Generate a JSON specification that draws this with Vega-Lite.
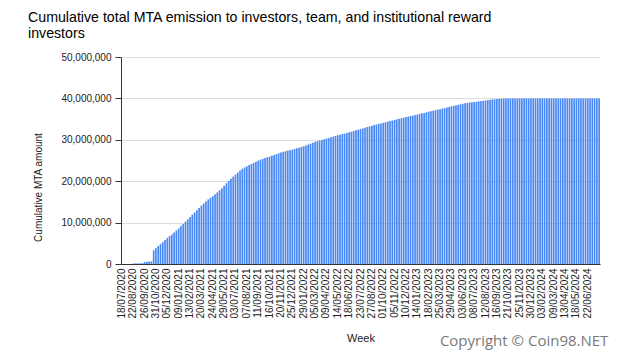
{
  "$schema": "https://vega.github.io/schema/vega-lite/v6.json",
  "width": 479,
  "height": 207,
  "autosize": {"type": "none"},
  "padding": {"left": 121, "top": 57, "right": 41, "bottom": 91},
  "background": "white",
  "title": {
    "text": ["Cumulative total MTA emission to investors, team, and institutional reward", "investors"],
    "anchor": "start",
    "frame": "group",
    "dx": -93,
    "font": "Liberation Sans",
    "fontSize": 14.2,
    "fontWeight": "normal",
    "color": "#000000",
    "lineHeight": 16,
    "offset": 11
  },
  "config": {
    "view": {"stroke": null},
    "axis": {"labelFont": "Liberation Sans", "titleFont": "Liberation Sans", "labelColor": "#222222", "titleColor": "#222222", "titleFontWeight": "normal"}
  },
  "data": {"values": [
    {"w":"18/07/2020","v":0},{"w":"25/07/2020","v":0},{"w":"01/08/2020","v":0},{"w":"08/08/2020","v":0},{"w":"15/08/2020","v":0},
    {"w":"22/08/2020","v":100000},{"w":"29/08/2020","v":150000},{"w":"05/09/2020","v":150000},{"w":"12/09/2020","v":200000},{"w":"19/09/2020","v":200000},
    {"w":"26/09/2020","v":500000},{"w":"03/10/2020","v":550000},{"w":"10/10/2020","v":600000},{"w":"17/10/2020","v":650000},{"w":"24/10/2020","v":3300000},
    {"w":"31/10/2020","v":3800000},{"w":"07/11/2020","v":4350000},{"w":"14/11/2020","v":4800000},{"w":"21/11/2020","v":5300000},{"w":"28/11/2020","v":5800000},
    {"w":"05/12/2020","v":6300000},{"w":"12/12/2020","v":6750000},{"w":"19/12/2020","v":7150000},{"w":"26/12/2020","v":7600000},{"w":"02/01/2021","v":8100000},
    {"w":"09/01/2021","v":8600000},{"w":"16/01/2021","v":9150000},{"w":"23/01/2021","v":9700000},{"w":"30/01/2021","v":10250000},{"w":"06/02/2021","v":10800000},
    {"w":"13/02/2021","v":11350000},{"w":"20/02/2021","v":11900000},{"w":"27/02/2021","v":12450000},{"w":"06/03/2021","v":13000000},{"w":"13/03/2021","v":13550000},
    {"w":"20/03/2021","v":14100000},{"w":"27/03/2021","v":14600000},{"w":"03/04/2021","v":15100000},{"w":"10/04/2021","v":15600000},{"w":"17/04/2021","v":16000000},
    {"w":"24/04/2021","v":16400000},{"w":"01/05/2021","v":16850000},{"w":"08/05/2021","v":17300000},{"w":"15/05/2021","v":17800000},{"w":"22/05/2021","v":18300000},
    {"w":"29/05/2021","v":18900000},{"w":"05/06/2021","v":19500000},{"w":"12/06/2021","v":20100000},{"w":"19/06/2021","v":20600000},{"w":"26/06/2021","v":21100000},
    {"w":"03/07/2021","v":21600000},{"w":"10/07/2021","v":22100000},{"w":"17/07/2021","v":22600000},{"w":"24/07/2021","v":23000000},{"w":"31/07/2021","v":23300000},
    {"w":"07/08/2021","v":23600000},{"w":"14/08/2021","v":23900000},{"w":"21/08/2021","v":24150000},{"w":"28/08/2021","v":24400000},{"w":"04/09/2021","v":24700000},
    {"w":"11/09/2021","v":25000000},{"w":"18/09/2021","v":25200000},{"w":"25/09/2021","v":25400000},{"w":"02/10/2021","v":25600000},{"w":"09/10/2021","v":25800000},
    {"w":"16/10/2021","v":25950000},{"w":"23/10/2021","v":26150000},{"w":"30/10/2021","v":26350000},{"w":"06/11/2021","v":26550000},{"w":"13/11/2021","v":26750000},
    {"w":"20/11/2021","v":26950000},{"w":"27/11/2021","v":27100000},{"w":"04/12/2021","v":27250000},{"w":"11/12/2021","v":27400000},{"w":"18/12/2021","v":27500000},
    {"w":"25/12/2021","v":27650000},{"w":"01/01/2022","v":27800000},{"w":"08/01/2022","v":27950000},{"w":"15/01/2022","v":28100000},{"w":"22/01/2022","v":28300000},
    {"w":"29/01/2022","v":28450000},{"w":"05/02/2022","v":28650000},{"w":"12/02/2022","v":28850000},{"w":"19/02/2022","v":29050000},{"w":"26/02/2022","v":29300000},
    {"w":"05/03/2022","v":29500000},{"w":"12/03/2022","v":29650000},{"w":"19/03/2022","v":29800000},{"w":"26/03/2022","v":29950000},{"w":"02/04/2022","v":30150000},
    {"w":"09/04/2022","v":30300000},{"w":"16/04/2022","v":30450000},{"w":"23/04/2022","v":30600000},{"w":"30/04/2022","v":30800000},{"w":"07/05/2022","v":30950000},
    {"w":"14/05/2022","v":31100000},{"w":"21/05/2022","v":31250000},{"w":"28/05/2022","v":31400000},{"w":"04/06/2022","v":31500000},{"w":"11/06/2022","v":31650000},
    {"w":"18/06/2022","v":31800000},{"w":"25/06/2022","v":31950000},{"w":"02/07/2022","v":32100000},{"w":"09/07/2022","v":32300000},{"w":"16/07/2022","v":32450000},
    {"w":"23/07/2022","v":32600000},{"w":"30/07/2022","v":32750000},{"w":"06/08/2022","v":32900000},{"w":"13/08/2022","v":33100000},{"w":"20/08/2022","v":33250000},
    {"w":"27/08/2022","v":33400000},{"w":"03/09/2022","v":33550000},{"w":"10/09/2022","v":33700000},{"w":"17/09/2022","v":33850000},{"w":"24/09/2022","v":33950000},
    {"w":"01/10/2022","v":34100000},{"w":"08/10/2022","v":34250000},{"w":"15/10/2022","v":34400000},{"w":"22/10/2022","v":34550000},{"w":"29/10/2022","v":34650000},
    {"w":"05/11/2022","v":34800000},{"w":"12/11/2022","v":34950000},{"w":"19/11/2022","v":35100000},{"w":"26/11/2022","v":35250000},{"w":"03/12/2022","v":35350000},
    {"w":"10/12/2022","v":35500000},{"w":"17/12/2022","v":35600000},{"w":"24/12/2022","v":35750000},{"w":"31/12/2022","v":35850000},{"w":"07/01/2023","v":36000000},
    {"w":"14/01/2023","v":36100000},{"w":"21/01/2023","v":36250000},{"w":"28/01/2023","v":36400000},{"w":"04/02/2023","v":36500000},{"w":"11/02/2023","v":36650000},
    {"w":"18/02/2023","v":36800000},{"w":"25/02/2023","v":36900000},{"w":"04/03/2023","v":37050000},{"w":"11/03/2023","v":37150000},{"w":"18/03/2023","v":37300000},
    {"w":"25/03/2023","v":37400000},{"w":"01/04/2023","v":37550000},{"w":"08/04/2023","v":37650000},{"w":"15/04/2023","v":37800000},{"w":"22/04/2023","v":37950000},
    {"w":"29/04/2023","v":38100000},{"w":"06/05/2023","v":38200000},{"w":"13/05/2023","v":38350000},{"w":"20/05/2023","v":38450000},{"w":"27/05/2023","v":38600000},
    {"w":"03/06/2023","v":38700000},{"w":"10/06/2023","v":38800000},{"w":"17/06/2023","v":38900000},{"w":"24/06/2023","v":39000000},{"w":"01/07/2023","v":39050000},
    {"w":"08/07/2023","v":39150000},{"w":"15/07/2023","v":39200000},{"w":"22/07/2023","v":39300000},{"w":"29/07/2023","v":39350000},{"w":"05/08/2023","v":39450000},
    {"w":"12/08/2023","v":39500000},{"w":"19/08/2023","v":39600000},{"w":"26/08/2023","v":39650000},{"w":"02/09/2023","v":39750000},{"w":"09/09/2023","v":39800000},
    {"w":"16/09/2023","v":39850000},{"w":"23/09/2023","v":39900000},{"w":"30/09/2023","v":39920000},{"w":"07/10/2023","v":39950000},{"w":"14/10/2023","v":39980000},
    {"w":"21/10/2023","v":40000000},{"w":"28/10/2023","v":40000000},{"w":"04/11/2023","v":40000000},{"w":"11/11/2023","v":40000000},{"w":"18/11/2023","v":40000000},
    {"w":"25/11/2023","v":40000000},{"w":"02/12/2023","v":40000000},{"w":"09/12/2023","v":40000000},{"w":"16/12/2023","v":40000000},{"w":"23/12/2023","v":40000000},
    {"w":"30/12/2023","v":40000000},{"w":"06/01/2024","v":40000000},{"w":"13/01/2024","v":40000000},{"w":"20/01/2024","v":40000000},{"w":"27/01/2024","v":40000000},
    {"w":"03/02/2024","v":40000000},{"w":"10/02/2024","v":40000000},{"w":"17/02/2024","v":40000000},{"w":"24/02/2024","v":40000000},{"w":"02/03/2024","v":40000000},
    {"w":"09/03/2024","v":40000000},{"w":"16/03/2024","v":40000000},{"w":"23/03/2024","v":40000000},{"w":"30/03/2024","v":40000000},{"w":"06/04/2024","v":40000000},
    {"w":"13/04/2024","v":40000000},{"w":"20/04/2024","v":40000000},{"w":"27/04/2024","v":40000000},{"w":"04/05/2024","v":40000000},{"w":"11/05/2024","v":40000000},
    {"w":"18/05/2024","v":40000000},{"w":"25/05/2024","v":40000000},{"w":"01/06/2024","v":40000000},{"w":"08/06/2024","v":40000000},{"w":"15/06/2024","v":40000000},
    {"w":"22/06/2024","v":40000000},{"w":"29/06/2024","v":40000000},{"w":"06/07/2024","v":40000000},{"w":"13/07/2024","v":40000000},{"w":"20/07/2024","v":40000000},
    {"w":"27/07/2024","v":40000000}
  ]},
  "layer": [
    {
      "mark": {"type": "bar", "color": "#4a89f3"},
      "encoding": {
        "x": {
          "field": "w", "type": "ordinal", "sort": null,
          "scale": {"paddingInner": 0.25, "paddingOuter": 0},
          "axis": {
            "title": "Week",
            "titleFontSize": 11,
            "titlePadding": 14,
            "labelAngle": 270,
            "labelFontSize": 10,
            "labelPadding": 4,
            "labelOverlap": false,
            "ticks": false,
            "domainColor": "#333333",
            "values": ["18/07/2020","22/08/2020","26/09/2020","31/10/2020","05/12/2020","09/01/2021","13/02/2021","20/03/2021","24/04/2021","29/05/2021","03/07/2021","07/08/2021","11/09/2021","16/10/2021","20/11/2021","25/12/2021","29/01/2022","05/03/2022","09/04/2022","14/05/2022","18/06/2022","23/07/2022","27/08/2022","01/10/2022","05/11/2022","10/12/2022","14/01/2023","18/02/2023","25/03/2023","29/04/2023","03/06/2023","08/07/2023","12/08/2023","16/09/2023","21/10/2023","25/11/2023","30/12/2023","03/02/2024","09/03/2024","13/04/2024","18/05/2024","22/06/2024"]
          }
        },
        "y": {
          "field": "v", "type": "quantitative",
          "scale": {"domain": [0, 50000000], "nice": false},
          "axis": {
            "title": "Cumulative MTA amount",
            "titleFontSize": 10,
            "titleX": -83,
            "titleY": 130,
            "titleBaseline": "middle",
            "values": [0, 10000000, 20000000, 30000000, 40000000, 50000000],
            "format": ",d",
            "labelFontSize": 10,
            "labelPadding": 4,
            "tickSize": 6,
            "tickColor": "#333333",
            "domainColor": "#333333",
            "gridColor": "#dddddd"
          }
        }
      }
    },
    {
      "transform": [{"filter": "datum.w == '09/12/2023'"}],
      "mark": {"type": "text", "font": "Open Sans", "fontSize": 15, "color": "#7a7a7a", "align": "center", "baseline": "middle"},
      "encoding": {
        "x": {"field": "w", "type": "ordinal", "sort": null},
        "y": {"datum": -18500000},
        "text": {"value": "Copyright © Coin98.NET"}
      }
    }
  ]
}
